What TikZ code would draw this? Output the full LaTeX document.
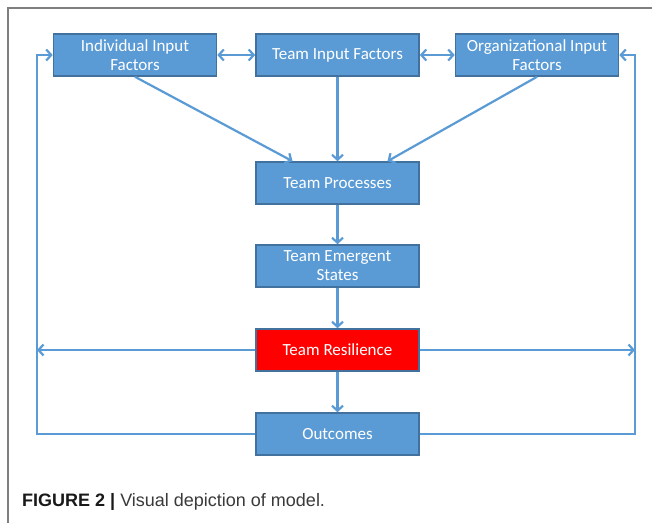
\documentclass[tikz,border=0pt]{standalone}
\usepackage{fontspec}
\setmainfont{Carlito}
\newfontfamily\capfont{Liberation Sans}
\usetikzlibrary{arrows.meta,calc}
\definecolor{boxblue}{HTML}{5B9BD5}
\definecolor{boxborder}{HTML}{41719C}
\definecolor{arrblue}{HTML}{5B9BD5}
\definecolor{resred}{HTML}{FF0000}
\definecolor{framegray}{HTML}{7F7F7F}
\definecolor{captext}{HTML}{3A3A3A}
\tikzset{
  box/.style={draw=boxborder, fill=boxblue, line width=1.6pt, text=white,
    minimum width=163pt, minimum height=42pt, align=center, inner sep=0pt,
    font=\fontsize{17}{19}\selectfont},
  redbox/.style={box, fill=resred},
  arr/.style={draw=arrblue, line width=2.2pt, -{Straight Barb[length=5pt,width=11pt]}},
  darr/.style={arr, {Straight Barb[length=5pt,width=11pt]}-{Straight Barb[length=5pt,width=11pt]}},
}
\begin{document}
\begin{tikzpicture}[x=1pt,y=-1pt]
\useasboundingbox (0,0) rectangle (652,523);
\fill[white] (0,0) rectangle (652,523);
\draw[framegray, line width=1.2pt] (8,523) -- (8,8) -- (652,8);

\node[box] (ind) at (135,55) {Individual Input\\Factors};
\node[box] (tin) at (337.5,55) {Team Input Factors};
\node[box] (org) at (537,55) {Organizational Input\\Factors};
\node[box] (proc) at (337.5,183) {Team Processes};
\node[box] (emer) at (337.5,266) {Team Emergent\\States};
\node[redbox] (res) at (337.5,350) {Team Resilience};
\node[box] (out) at (337.5,434) {Outcomes};

\coordinate (L1) at (37,350);
\coordinate (R1) at (635,350);
\coordinate (L2) at (37,434);
\coordinate (R2) at (635,434);

\draw[darr] (ind.east) -- (tin.west);
\draw[darr] (tin.east) -- (org.west);
\draw[arr] (ind.south) -- ($(proc.north)+(-45,0)$);
\draw[arr] (tin.south) -- (proc.north);
\draw[arr] (org.south) -- ($(proc.north)+(50,0)$);
\draw[arr] (proc.south) -- (emer.north);
\draw[arr] (emer.south) -- (res.north);
\draw[arr] (res.south) -- (out.north);
\draw[arr] (res.west) -- (L1);
\draw[arr] (res.east) -- (R1);
\draw[arr] (out.west) -- (L2) |- (ind.west);
\draw[arr] (out.east) -- (R2) |- (org.east);

\node[anchor=west, inner sep=0pt, text=captext, font=\capfont\fontsize{18}{21}\selectfont] (cap) at (22,502)
  {\textbf{\color{black!90}FIGURE 2 |} Visual depiction of model.};
\end{tikzpicture}
\end{document}
